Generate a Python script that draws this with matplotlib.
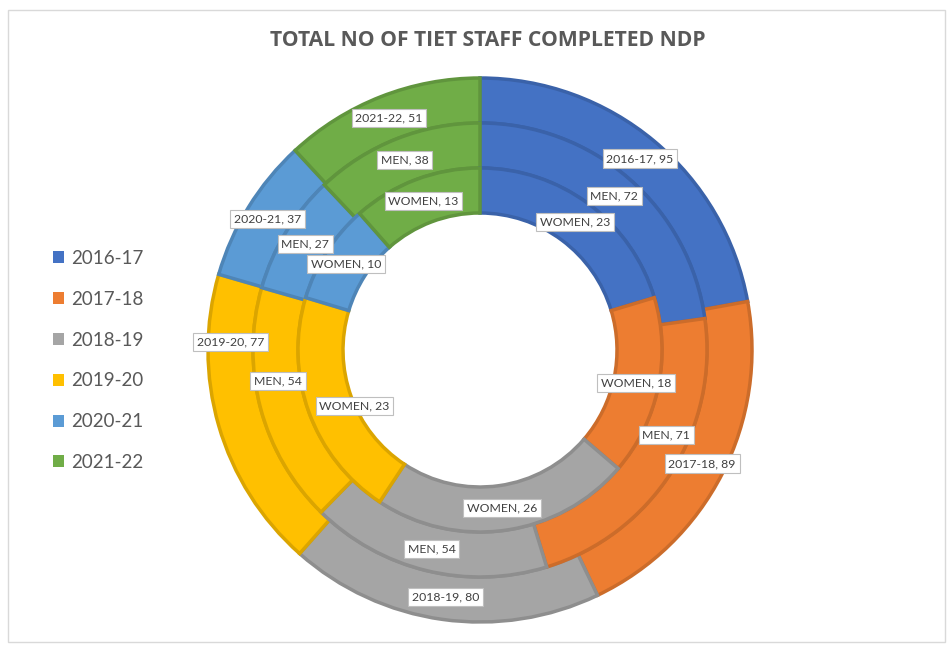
import numpy as np
import matplotlib
matplotlib.use("Agg")
import matplotlib.pyplot as plt
from matplotlib.patches import Rectangle
import matplotlib.colors as mcolors

years = ['2016-17', '2017-18', '2018-19', '2019-20', '2020-21', '2021-22']
total = [95, 89, 80, 77, 37, 51]
men = [72, 71, 54, 54, 27, 38]
women = [23, 18, 26, 23, 10, 13]
colors = ['#4472C4', '#ED7D31', '#A5A5A5', '#FFC000', '#5B9BD5', '#70AD47']

# label nudges (ring, slice) -> (angle shift in degrees, radius shift), like Excel moved them
nudges = {(0, 3): (18, 0), (1, 3): (6, 0), (2, 3): (-4, -22), (1, 1): (-8, 0)}

plt.rcParams['font.family'] = ['Lato', 'DejaVu Sans']

fig = plt.figure(figsize=(9.52, 6.51), dpi=100)
ax = fig.add_axes([0, 0, 1, 1])

cx, cy = 480, 651 - 350
R = 272
w = 45

def darker(c, f=0.86):
    r, g, b = mcolors.to_rgb(c)
    return (r * f, g * f, b * f)

rings = [
    (total, R, lambda i: f'{years[i]}, {total[i]}'),
    (men, R - w, lambda i: f'MEN, {men[i]}'),
    (women, R - 2 * w, lambda i: f'WOMEN, {women[i]}'),
]

outer_wedges = None
for k, (vals, rad, lab) in enumerate(rings):
    wedges, _ = ax.pie(vals, colors=colors, radius=rad, center=(cx, cy),
                       startangle=90, counterclock=False,
                       wedgeprops=dict(width=w, linewidth=2.5))
    for wd, c in zip(wedges, colors):
        wd.set_edgecolor(darker(c))
    if outer_wedges is None:
        outer_wedges = wedges
    # labels at the middle of each ring segment
    fr = np.cumsum([0] + list(vals)) / sum(vals)
    for i in range(len(vals)):
        da, dr = nudges.get((k, i), (0, 0))
        mid = 90 - 360 * (fr[i] + fr[i + 1]) / 2 - da
        rm = rad - w / 2 + dr
        x = cx + rm * np.cos(np.radians(mid))
        y = cy + rm * np.sin(np.radians(mid))
        ax.text(x, y, lab(i), ha='center', va='center', fontsize=8.8, color='#404040',
                bbox=dict(boxstyle='square,pad=0.3', fc='white', ec='#BFBFBF', lw=0.8))

ax.set_xlim(0, 952)
ax.set_ylim(0, 651)
ax.set_aspect('equal')
ax.axis('off')

ax.text(488, 651 - 40, 'TOTAL NO OF TIET STAFF COMPLETED NDP', ha='center', va='center',
        fontsize=15.2, fontweight='bold', color='#595959', family=['Open Sans', 'DejaVu Sans'])

leg = ax.legend(outer_wedges, years, loc='upper left', bbox_to_anchor=(0.038, 0.642),
                frameon=False, fontsize=13.5, labelcolor='#595959', handlelength=0.6,
                handleheight=0.6, handletextpad=0.35, labelspacing=1.27)
for h in leg.legend_handles:
    h.set_edgecolor('none')

fig.patches.append(Rectangle((8 / 952, 1 - 642 / 651), 937 / 952, 632 / 651,
                             transform=fig.transFigure, fill=False, ec='#D9D9D9', lw=1))

fig.savefig('out.png', dpi=100)
